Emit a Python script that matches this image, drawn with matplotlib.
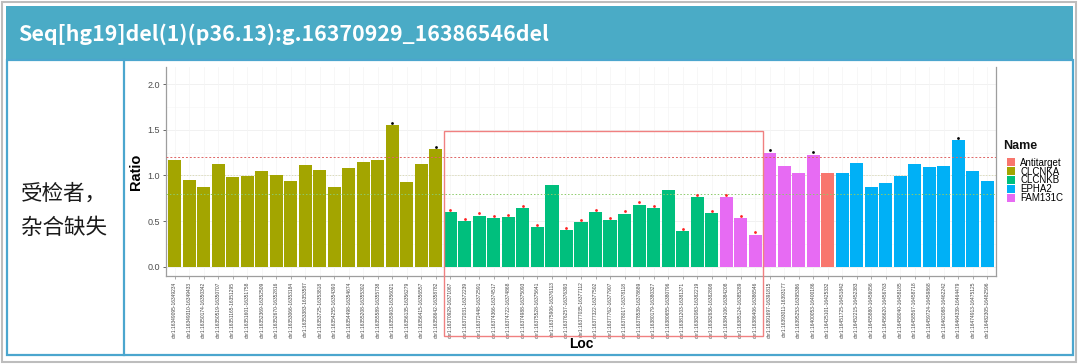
import matplotlib
matplotlib.use("Agg")
import matplotlib.pyplot as plt
from matplotlib.patches import Rectangle, Patch
from matplotlib.lines import Line2D

# ---------------- data ----------------
title_text = "Seq[hg19]del(1)(p36.13):g.16370929_16386546del"
side_text = "受检者，\n杂合缺失"

loc_labels = [
    "chr1:16349095-16349234", "chr1:16349310-16349433", "chr1:16350174-16350342",
    "chr1:16350519-16350707", "chr1:16351165-16351295", "chr1:16351601-16351758",
    "chr1:16352369-16352509", "chr1:16352670-16352816", "chr1:16353066-16353184",
    "chr1:16353383-16353587", "chr1:16353725-16353818", "chr1:16354255-16354390",
    "chr1:16354498-16354674", "chr1:16355208-16355302", "chr1:16355589-16355738",
    "chr1:16355903-16356021", "chr1:16356135-16356279", "chr1:16356415-16356557",
    "chr1:16358642-16358782",
    "chr1:16370929-16371067", "chr1:16372031-16372239", "chr1:16372448-16372591",
    "chr1:16374366-16374517", "chr1:16374722-16374868", "chr1:16374988-16375093",
    "chr1:16375528-16375641", "chr1:16375906-16376113", "chr1:16376257-16376393",
    "chr1:16377035-16377112", "chr1:16377322-16377502", "chr1:16377762-16377907",
    "chr1:16378017-16378118", "chr1:16378539-16378689", "chr1:16380179-16380327",
    "chr1:16380655-16380796", "chr1:16381203-16381371", "chr1:16382083-16382219",
    "chr1:16382636-16382808",
    "chr1:16384106-16384208", "chr1:16385124-16385289", "chr1:16386406-16386546",
    "chr1:16391697-16391815", "chr1:16393011-16393177", "chr1:16395253-16395386",
    "chr1:16400053-16400186",
    "chr1:16425101-16425332",
    "chr1:16451725-16451842", "chr1:16452215-16452383", "chr1:16455880-16456056",
    "chr1:16456620-16456763", "chr1:16458040-16458185", "chr1:16458567-16458718",
    "chr1:16459724-16459868", "chr1:16462088-16462242", "chr1:16464339-16464479",
    "chr1:16474913-16475125", "chr1:16482305-16482596",
]

gene_names = (["CLCNKA"] * 19 + ["CLCNKB"] * 19 + ["FAM131C"] * 7 +
              ["Antitarget"] + ["EPHA2"] * 11)

ratios = [
    1.17, 0.95, 0.87, 1.13, 0.98, 0.99, 1.05, 1.00, 0.94, 1.11,
    1.06, 0.87, 1.08, 1.15, 1.17, 1.55, 0.93, 1.13, 1.29,
    0.60, 0.50, 0.56, 0.53, 0.54, 0.64, 0.43, 0.89, 0.40, 0.49,
    0.60, 0.51, 0.58, 0.68, 0.64, 0.84, 0.39, 0.76, 0.59,
    0.76, 0.53, 0.35, 1.25, 1.10, 1.03, 1.23,
    1.03,
    1.03, 1.14, 0.87, 0.92, 0.99, 1.13, 1.09, 1.10, 1.39, 1.05, 0.94,
]

legend_names = ["Antitarget", "CLCNKA", "CLCNKB", "EPHA2", "FAM131C"]
legend_colors = ["#F8766D", "#A3A500", "#00BF7D", "#00B0F6", "#E76BF3"]

upper_cut = 1.2
lower_cut = 0.8
ratio_ticks = [0.0, 0.5, 1.0, 1.5, 2.0]
box_first, box_last = 19, 40   # boxed (deleted) region, bar indices

# ---------------- figure ----------------
W, H = 1080, 364
fig = plt.figure(figsize=(W / 100, H / 100), dpi=100, facecolor="white")


def fx(px):
    return px / W


def fy(py):
    return 1 - py / H


# outer gray border
fig.patches.append(Rectangle((fx(1.5), fy(362)), fx(1076) - fx(1.5), fy(2) - fy(362),
                             transform=fig.transFigure, fill=False,
                             edgecolor="#BDBDBD", linewidth=1.5))
# teal header
fig.patches.append(Rectangle((fx(6), fy(60)), fx(1073) - fx(6), fy(6) - fy(60),
                             transform=fig.transFigure, facecolor="#4AABC6",
                             edgecolor="none"))
# table border (blue)
blue = "#4BA6CE"
fig.patches.append(Rectangle((fx(7), fy(355)), fx(1073) - fx(7), fy(60) - fy(355),
                             transform=fig.transFigure, fill=False,
                             edgecolor=blue, linewidth=1.6))
fig.add_artist(Line2D([fx(124), fx(124)], [fy(60), fy(355)],
                      transform=fig.transFigure, color=blue, linewidth=1.6))

cjk = ["Noto Sans CJK SC", "DejaVu Sans"]
fig.text(fx(18), fy(34), title_text, color="white", fontsize=15.4,
         fontweight="bold", family=cjk, va="center", ha="left")
fig.text(fx(21), fy(211), side_text, color="#1A1A1A", fontsize=15.5,
         family=cjk, va="center", ha="left", linespacing=1.7)

# ---------------- chart ----------------
ax = fig.add_axes([fx(166), fy(276), fx(996) - fx(166), fy(67) - fy(276)])
ax.set_facecolor("white")

color_of = dict(zip(legend_names, legend_colors))
xs = list(range(len(ratios)))
ax.bar(xs, ratios, width=0.9, color=[color_of[g] for g in gene_names],
       edgecolor="none", zorder=2)

# grid
for t in ratio_ticks:
    ax.axhline(t, color="#EFEFEF", linewidth=0.6, zorder=0)
for t in [0.25, 0.75, 1.25, 1.75]:
    ax.axhline(t, color="#F6F6F6", linewidth=0.4, zorder=0)
for x in xs:
    ax.axvline(x, color="#F4F4F4", linewidth=0.5, zorder=0)

# cut-off lines
ax.axhline(upper_cut, color="#E06666", linestyle=(0, (2, 2)), linewidth=0.7, zorder=3)
ax.axhline(lower_cut, color="#8CCB6A", linestyle=(0, (1.5, 2)), linewidth=0.7, zorder=3)
ax.axhline(1.0, color="#D9D9B0", linestyle=(0, (1.5, 2)), linewidth=0.6, zorder=1)

# markers for out-of-range bars
for x, r in zip(xs, ratios):
    if r > upper_cut:
        ax.plot(x, r + 0.025, "o", color="black", markersize=2.0, zorder=4,
                markeredgewidth=0)
    elif r < lower_cut:
        ax.plot(x, r + 0.025, "o", color="#FF2020", markersize=2.0, zorder=4,
                markeredgewidth=0)

ax.set_xlim(-0.6, len(ratios) - 0.4)
ax.set_ylim(-0.103, 2.19)
ax.set_yticks(ratio_ticks)
ax.set_yticklabels([f"{t:.1f}" for t in ratio_ticks])
ax.set_xticks(xs)
ax.set_xticklabels(loc_labels, rotation=90, fontsize=3.5, color="#444444",
                   family="Liberation Sans")
ax.tick_params(axis="y", labelsize=6.5, colors="#4D4D4D", length=2.5, width=0.6,
               pad=2)
ax.tick_params(axis="x", length=2, width=0.5, colors="#888888", pad=2)
for lab in ax.get_yticklabels():
    lab.set_family("Liberation Sans")
    lab.set_color("#4D4D4D")
for lab in ax.get_xticklabels():
    lab.set_color("#444444")

for side in ["left", "right", "bottom"]:
    ax.spines[side].set_color("#9E9E9E")
    ax.spines[side].set_linewidth(0.9)
ax.spines["top"].set_visible(False)

ax.set_ylabel("Ratio", fontsize=10.5, fontweight="bold", family="Liberation Sans")
ax.yaxis.set_label_coords(-0.028, 0.5)
ax.set_xlabel("Loc", fontsize=10, fontweight="bold", family="Liberation Sans")
ax.xaxis.set_label_coords(0.5, -0.29)

# red box highlighting deleted region
ax.add_patch(Rectangle((box_first - 0.45, -0.76), (box_last + 0.55) - (box_first - 0.45),
                       1.49 + 0.76, fill=False, edgecolor="#F08080",
                       linewidth=1.0, clip_on=False, zorder=5))

# legend
handles = [Patch(facecolor=c, edgecolor="none", label=n)
           for n, c in zip(legend_names, legend_colors)]
leg = fig.legend(handles=handles, loc="upper left",
                 bbox_to_anchor=(fx(1000), fy(151)), frameon=False,
                 handlelength=0.8, handleheight=0.9, handletextpad=0.6,
                 labelspacing=-0.12, borderpad=0.2,
                 prop={"family": "Liberation Sans", "size": 7})
fig.text(fx(1003), fy(146), "Name", fontsize=9, fontweight="bold",
         family="Liberation Sans", color="#111111", va="center", ha="left")

fig.savefig("out.png", dpi=100, facecolor="white")
